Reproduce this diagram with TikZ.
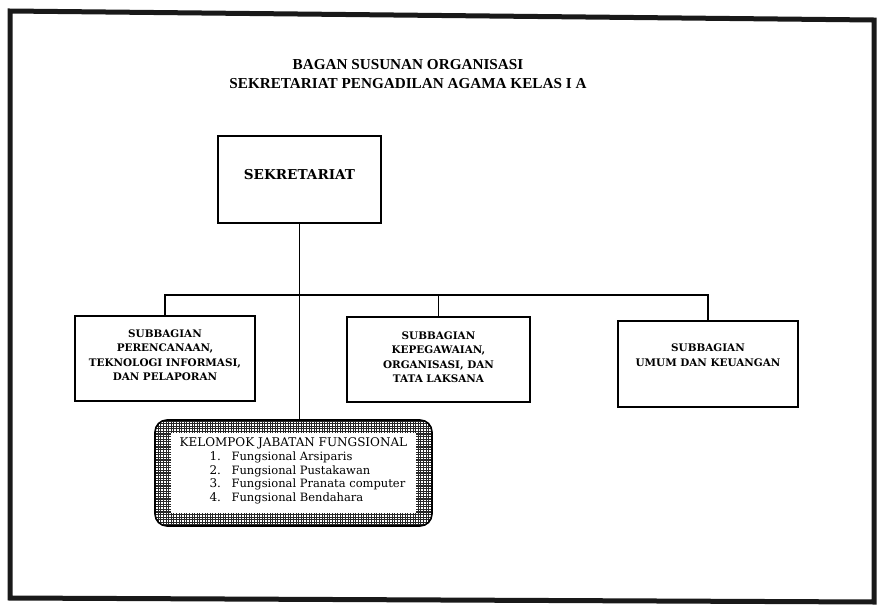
\documentclass[tikz,border=0pt]{standalone}
\usepackage{fontspec}
\setmainfont{Liberation Serif}
\newfontfamily\unitfont{DejaVu Serif}
\usetikzlibrary{positioning,calc}

\tikzset{
  unit/.style={draw, line width=0.9pt, inner sep=0pt, align=center,
    font=\unitfont\bfseries\fontsize{5.2}{7.15}\selectfont},
  link/.style={line width=0.7pt},
  kelbox/.style={draw, line width=0.8pt, rounded corners=6pt, inner sep=0pt,
    minimum width=138.5pt, minimum height=53pt,
    path picture={\draw[line width=0.55pt, black!85, step=1.3pt]
      (path picture bounding box.south west) grid (path picture bounding box.north east);}},
  keltext/.style={inner sep=0pt, align=left,
    font=\unitfont\fontsize{6}{6.9}\selectfont},
  kelitem/.style={font=\unitfont\fontsize{5.75}{6.9}\selectfont},
}

\begin{document}
\begin{tikzpicture}[x=0.5pt, y=-0.5pt]
\useasboundingbox (0,0) rectangle (880,606);
% ---------- outer frame ----------
\draw[line width=2.5pt, black!90] (10,11) -- (874,20) -- (874,602) -- (10,598) -- cycle;
% ---------- title ----------
\node[font=\bfseries\fontsize{7.6}{9.5}\selectfont, align=center] (title) at (408,74.5)
   {BAGAN SUSUNAN ORGANISASI\\SEKRETARIAT PENGADILAN AGAMA KELAS I A};
% ---------- units ----------
\node[unit, minimum width=81.5pt, minimum height=43.5pt, text depth=5.5pt,
      font=\unitfont\bfseries\fontsize{6.8}{8}\selectfont] (sek) at (299.5,179.5) {SEKRETARIAT};
\node[unit, minimum width=90pt, minimum height=42.5pt, text depth=3.5pt] (sub1) at (165,358.5)
   {SUBBAGIAN\\PERENCANAAN,\\TEKNOLOGI INFORMASI,\\DAN PELAPORAN};
\node[unit, minimum width=91.5pt, minimum height=42.5pt, text depth=2.5pt] (sub2) at (438.5,359.5)
   {SUBBAGIAN\\KEPEGAWAIAN,\\ORGANISASI, DAN\\TATA LAKSANA};
\node[unit, minimum width=90pt, minimum height=43pt, text depth=9pt] (sub3) at (708,364)
   {SUBBAGIAN\\UMUM DAN KEUANGAN};
% ---------- functional group ----------
\node[kelbox] (kel) at (293.5,473) {};
\fill[white] ([shift={(8.5pt,-7pt)}]kel.north west) rectangle ([shift={(-8.5pt,7pt)}]kel.south east);
\node[keltext, anchor=north west] (kellist) at ([shift={(12.5pt,-9pt)}]kel.north west)
   {KELOMPOK JABATAN FUNGSIONAL\\
    \hspace*{15pt}\makebox[11pt][l]{1.}{\fontsize{5.75}{6.9}\selectfont Fungsional Arsiparis}\\
    \hspace*{15pt}\makebox[11pt][l]{2.}{\fontsize{5.75}{6.9}\selectfont Fungsional Pustakawan}\\
    \hspace*{15pt}\makebox[11pt][l]{3.}{\fontsize{5.75}{6.9}\selectfont Fungsional Pranata computer}\\
    \hspace*{15pt}\makebox[11pt][l]{4.}{\fontsize{5.75}{6.9}\selectfont Fungsional Bendahara}};
% ---------- connectors ----------
\coordinate (busy) at (0,295);
\coordinate (bus) at (sek.south |- busy);
\draw[link] (sek.south) -- (sek.south |- kel.north);
\draw[link] (sub1.north) |- (bus) -| (sub3.north);
\draw[link] (sub2.north) -- (sub2.north |- bus);
\end{tikzpicture}
\end{document}
